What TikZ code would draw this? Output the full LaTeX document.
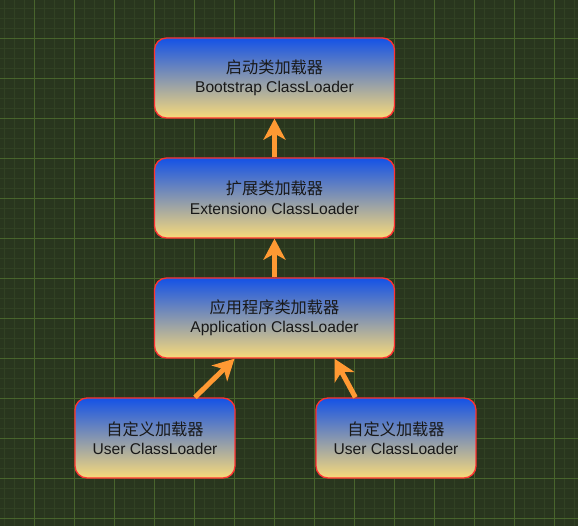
\documentclass[tikz,border=0pt]{standalone}
\usepackage{fontspec}
\setmainfont{Liberation Sans}
\newfontfamily\cjk{Noto Sans CJK SC}
\usetikzlibrary{arrows.meta}
\definecolor{bgc}{RGB}{41,54,30}
\definecolor{minorc}{RGB}{49,65,35}
\definecolor{majorc}{RGB}{72,100,44}
\definecolor{boxtop}{RGB}{20,82,230}
\definecolor{boxbot}{RGB}{248,218,122}
\definecolor{boxline}{RGB}{255,50,50}
\definecolor{arrowc}{RGB}{255,153,51}
\tikzset{
  minorgrid/.style={draw=minorc,line width=0.8pt},
  majorgrid/.style={draw=majorc,line width=0.9pt},
  loader/.style={rounded corners=12pt,draw=boxline,line width=1.3pt,
    top color=boxtop,bottom color=boxbot,minimum height=80pt,
    align=center,inner sep=0pt,text=black!90,
    font=\fontsize{15.6}{19.5}\selectfont},
  wide/.style={minimum width=240pt},
  narrow/.style={minimum width=160pt},
  cjktext/.style={},
  uparrow/.style={draw=arrowc,line width=5pt,
    -{Stealth[length=21pt,width=22pt,inset=6pt]}}
}
\newcommand{\zh}[1]{{\cjk\fontsize{16.2}{19.5}\selectfont #1}}
\begin{document}
\begin{tikzpicture}[x=1pt,y=-1pt]
\fill[bgc] (0,0) rectangle (578,526);
\useasboundingbox (0,0) rectangle (578,526);
\foreach \x in {4,14,...,574} \draw[minorgrid] (\x,0) -- (\x,526);
\foreach \y in {8,18,...,518} \draw[minorgrid] (0,\y) -- (578,\y);
\foreach \x in {34,74,...,554} \draw[majorgrid] (\x,0) -- (\x,526);
\foreach \y in {38,78,...,518} \draw[majorgrid] (0,\y) -- (578,\y);

\node[loader,wide] (boot) at (274.5,78) {\zh{启动类加载器}\\Bootstrap ClassLoader};
\node[loader,wide] (ext) at (274.5,198) {\zh{扩展类加载器}\\Extensiono ClassLoader};
\node[loader,wide] (app) at (274.5,318) {\zh{应用程序类加载器}\\Application ClassLoader};
\node[loader,narrow] (userl) at (155,438) {\zh{自定义加载器}\\User ClassLoader};
\node[loader,narrow] (userr) at (396,438) {\zh{自定义加载器}\\User ClassLoader};

\draw[uparrow] (ext.north) -- (boot.south);
\draw[uparrow] (app.north) -- (ext.south);
\draw[uparrow] ([xshift=40pt]userl.north) -- ([xshift=-40pt]app.south);
\draw[uparrow] ([xshift=40pt]userr.north west) -- ([xshift=60pt]app.south);
\end{tikzpicture}
\end{document}
